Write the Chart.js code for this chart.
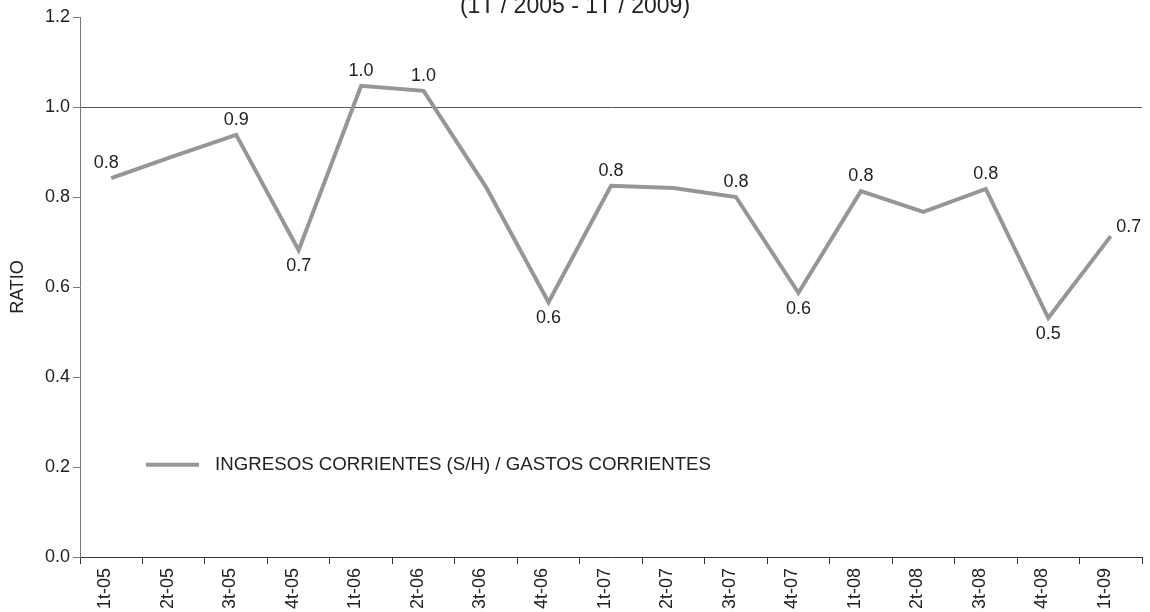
<!DOCTYPE html>
<html>
<head>
<meta charset="utf-8">
<script src="https://cdn.jsdelivr.net/npm/chart.js@4/dist/chart.umd.min.js"></script>
<style>
    html, body { margin: 0; padding: 0; background: #fff; }
    #wrap { width: 1150px; height: 612px; }
</style>
</head>
<body>
<div id="wrap"><canvas id="ratioChart"></canvas></div>
<script>
const quarters = ['1t-05', '2t-05', '3t-05', '4t-05', '1t-06', '2t-06', '3t-06', '4t-06', '1t-07',
    '2t-07', '3t-07', '4t-07', '1t-08', '2t-08', '3t-08', '4t-08', '1t-09'];
const ratio = [0.842, 0.891, 0.938, 0.682, 1.047, 1.036, 0.822, 0.566, 0.825,
    0.820, 0.800, 0.587, 0.813, 0.767, 0.818, 0.531, 0.713];
const showLabel = [true, false, true, true, true, true, false, true, true,
    false, true, true, true, false, true, true, true];
const seriesName = 'INGRESOS CORRIENTES (S/H) / GASTOS CORRIENTES';
const subtitle = '(1T / 2005 - 1T / 2009)';

const FONT = '"Liberation Sans", Arial, sans-serif';
const TEXT = '#222';
const LINE = '#969696';

// value labels above peaks, below dips, beside the last point
const valueLabels = {
    id: 'valueLabels',
    afterDatasetsDraw(chart) {
        const ctx = chart.ctx;
        const pts = chart.getDatasetMeta(0).data;
        const vals = chart.data.datasets[0].data;
        ctx.save();
        ctx.font = '18px ' + FONT;
        ctx.fillStyle = TEXT;
        ctx.textAlign = 'center';
        ctx.textBaseline = 'middle';
        pts.forEach((p, i) => {
            if (!showLabel[i]) return;
            const v = vals[i];
            const txt = v.toFixed(1);
            if (i === vals.length - 1) {
                ctx.fillText(txt, p.x + 18, p.y - 9);
                return;
            }
            const dip = i > 0 && v < vals[i - 1] && v < vals[i + 1];
            ctx.fillText(txt, p.x - (i === 0 ? 5 : 0), dip ? p.y + 16 : p.y - 15);
        });
        ctx.restore();
    },
};

// legend sits inside the plot, and the subtitle is half cut at the top
const decorations = {
    id: 'decorations',
    afterDraw(chart) {
        const ctx = chart.ctx;
        const area = chart.chartArea;
        const y = chart.scales.y.getPixelForValue(0.205);
        ctx.save();
        ctx.strokeStyle = LINE;
        ctx.lineWidth = 4;
        ctx.beginPath();
        ctx.moveTo(area.left + 66, y);
        ctx.lineTo(area.left + 119, y);
        ctx.stroke();
        ctx.font = '18.7px ' + FONT;
        ctx.fillStyle = TEXT;
        ctx.textBaseline = 'middle';
        ctx.fillText(seriesName, area.left + 135, y);

        ctx.font = '23px ' + FONT;
        ctx.textAlign = 'center';
        ctx.textBaseline = 'alphabetic';
        ctx.fillText(subtitle, chart.width / 2, 13);
        ctx.restore();
    },
};

new Chart(document.getElementById('ratioChart'), {
    type: 'line',
    data: {
        labels: quarters,
        datasets: [
            {
                label: seriesName,
                data: ratio,
                borderColor: LINE,
                borderWidth: 4,
                tension: 0,
                pointRadius: 0,
                fill: false,
            },
        ],
    },
    options: {
        responsive: true,
        maintainAspectRatio: false,
        animation: false,
        layout: { padding: { left: 0, right: 8, top: 17, bottom: 0 } },
        plugins: {
            legend: { display: false },
            tooltip: { enabled: false },
        },
        scales: {
            x: {
                offset: true,
                afterFit(scale) { scale.height = 55; },
                border: { color: '#333', width: 1 },
                grid: {
                    offset: true,
                    drawOnChartArea: false,
                    tickLength: 7,
                    color: '#333',
                },
                ticks: {
                    autoSkip: false,
                    maxRotation: 90,
                    minRotation: 90,
                    padding: 4,
                    labelOffset: -6,
                    color: TEXT,
                    font: { family: FONT, size: 18 },
                },
            },
            y: {
                min: 0,
                max: 1.2,
                afterFit(scale) { scale.width = 80; },
                border: { color: '#777', width: 1 },
                grid: {
                    color: ctx => (ctx.tick && Math.abs(ctx.tick.value - 1) < 1e-6 ? '#555' : 'rgba(0,0,0,0)'),
                    tickColor: '#777',
                    tickLength: 7,
                },
                ticks: {
                    stepSize: 0.2,
                    padding: 3,
                    color: TEXT,
                    font: { family: FONT, size: 18 },
                    callback: v => v.toFixed(1),
                },
                title: {
                    display: true,
                    text: 'RATIO',
                    color: TEXT,
                    padding: { top: 7, bottom: 0 },
                    font: { family: FONT, size: 18 },
                },
            },
        },
    },
    plugins: [valueLabels, decorations],
});
</script>
</body>
</html>
